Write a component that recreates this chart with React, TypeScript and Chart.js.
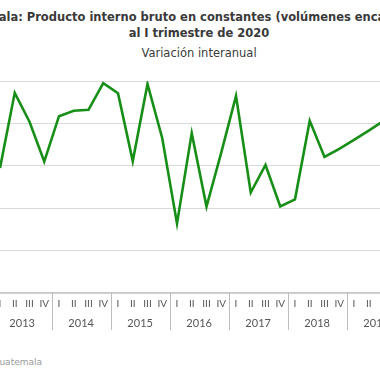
import React, { useEffect, useRef } from "react";
import { Chart, registerables } from "chart.js";

Chart.register(...registerables);

const titleLines = [
  "Guatemala: Producto interno bruto en constantes (volúmenes encadenados),",
  "al I trimestre de 2020",
];
const subtitleText = "Variación interanual";
const sourceText = "Fuente: Banco de Guatemala";

const years = ["2013", "2014", "2015", "2016", "2017", "2018", "2019"];
const quarterNames = ["I", "II", "III", "IV"];

// Year-on-year variation (%), quarterly, 2013-I .. 2019-III
const values = [
  2.95, 4.72, 4.04, 3.1,
  4.17, 4.3, 4.32, 4.95,
  4.71, 3.11, 4.93, 3.65,
  1.64, 3.77, 2.04, 3.31,
  4.65, 2.37, 3.02, 2.04,
  2.21, 4.06, 3.21, 3.4,
  3.61, 3.83, 4.06,
];

const quarterLabels = values.map((_, i) => quarterNames[i % 4]);

const FONT = "Lato, 'Noto Sans', sans-serif";
const TITLE_FONT = "'DejaVu Sans', sans-serif";

const yearPlugin = {
  id: "yearLabels",
  afterDraw(chart: any) {
    const x = chart.scales.x;
    const area = chart.chartArea;
    const ctx = chart.ctx;
    ctx.save();
    ctx.font = `11px ${FONT}`;
    ctx.fillStyle = "#555555";
    ctx.textAlign = "center";
    ctx.textBaseline = "middle";
    ctx.strokeStyle = "#bdbdbd";
    ctx.lineWidth = 1;
    years.forEach((y, k) => {
      const i0 = k * 4;
      const cx = (x.getPixelForValue(i0 + 1) + x.getPixelForValue(i0 + 2)) / 2;
      ctx.fillText(y, cx, area.bottom + 30);
      const sx = Math.round((x.getPixelForValue(i0 + 3) + x.getPixelForValue(i0 + 4)) / 2) + 0.5;
      ctx.beginPath();
      ctx.moveTo(sx, area.bottom);
      ctx.lineTo(sx, area.bottom + 37);
      ctx.stroke();
    });
    ctx.restore();
  },
};

export default function App() {
  const ref = useRef<HTMLCanvasElement | null>(null);
  useEffect(() => {
    if (!ref.current) return;
    const chart = new Chart(ref.current, {
      type: "line",
      data: {
        labels: quarterLabels,
        datasets: [
          {
            data: values,
            borderColor: "#178f17",
            borderWidth: 2.6,
            pointRadius: 0,
            tension: 0,
            fill: false,
          },
        ],
      },
      options: {
        responsive: false,
        maintainAspectRatio: false,
        animation: false,
        devicePixelRatio: 1,
        layout: { padding: { left: 20, right: 34.5, top: 81, bottom: 2 } },
        plugins: {
          legend: { display: false },
          tooltip: { enabled: false },
          title: { display: false },
        },
        scales: {
          x: {
            type: "category",
            offset: false,
            grid: { display: false, drawTicks: false },
            border: { display: true, color: "#c8c8c8", width: 1.5 },
            ticks: {
              autoSkip: false,
              maxRotation: 0,
              color: "#555555",
              padding: 5,
              font: { family: FONT, size: 10 },
            },
            afterFit: (s: any) => {
              s.height = 45;
            },
          },
          y: {
            min: 0,
            max: 5,
            ticks: { display: false, stepSize: 1 },
            grid: { color: "#d9d9d9", lineWidth: 1, drawTicks: false },
            border: { display: false },
          },
        },
      },
      plugins: [yearPlugin],
    });
    return () => chart.destroy();
  }, []);

  return (
    <div
      style={{
        position: "absolute",
        left: 0,
        top: 0,
        width: 380,
        height: 380,
        overflow: "hidden",
        background: "#ffffff",
      }}
    >
      <div
        style={{
          position: "absolute",
          left: 199 - 400,
          width: 800,
          top: 8.7,
          textAlign: "center",
          fontFamily: TITLE_FONT,
          fontWeight: "bold",
          fontSize: 11.5,
          lineHeight: "16px",
          color: "#3a3a3a",
          whiteSpace: "nowrap",
        }}
      >
        {titleLines.map((t) => (
          <div key={t}>{t}</div>
        ))}
      </div>
      <div
        style={{
          position: "absolute",
          left: 199 - 400,
          width: 800,
          top: 46.3,
          textAlign: "center",
          fontFamily: TITLE_FONT,
          fontSize: 11.5,
          lineHeight: "14px",
          color: "#3a3a3a",
          whiteSpace: "nowrap",
        }}
      >
        {subtitleText}
      </div>
      <div style={{ position: "absolute", left: -20, top: 0, width: 438, height: 340 }}>
        <canvas ref={ref} width={438} height={340} style={{ width: 438, height: 340 }} />
      </div>
      <div
        style={{
          position: "absolute",
          right: 338,
          top: 357,
          whiteSpace: "nowrap",
          fontFamily: TITLE_FONT,
          fontSize: 9,
          color: "#9a9a9a",
        }}
      >
        {sourceText}
      </div>
    </div>
  );
}
